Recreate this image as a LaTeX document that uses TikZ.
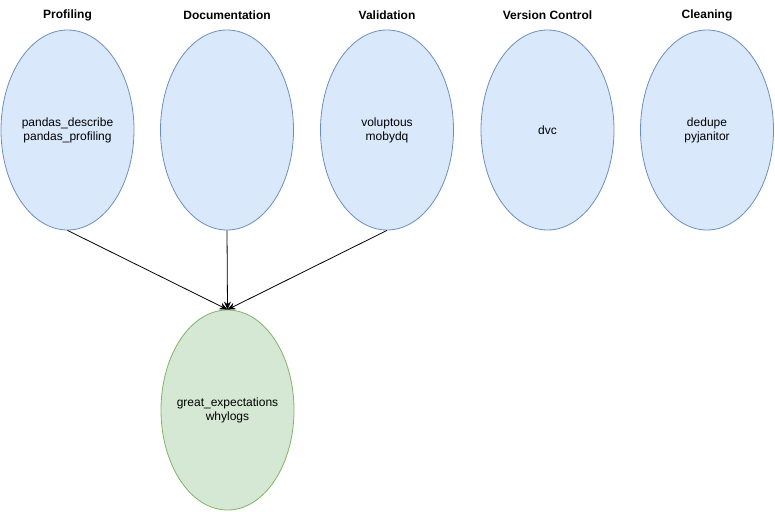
\documentclass[tikz,border=0pt]{standalone}
\usepackage{fontspec}
\setmainfont{Liberation Sans}
\usetikzlibrary{shapes.geometric,arrows.meta}
\definecolor{bfill}{HTML}{DAE8FC}
\definecolor{bdraw}{HTML}{6C8EBF}
\definecolor{gfill}{HTML}{D5E8D4}
\definecolor{gdraw}{HTML}{82B366}
\begin{document}
\begin{tikzpicture}[x=1pt,y=-1pt,
  blueell/.style={ellipse,draw=bdraw,fill=bfill,line width=0.8pt,minimum width=133pt,minimum height=200pt,inner xsep=-15pt,inner ysep=0pt,align=center,font=\fontsize{12}{14}\selectfont},
  greenell/.style={ellipse,draw=gdraw,fill=gfill,line width=0.8pt,minimum width=133pt,minimum height=200pt,inner xsep=-15pt,inner ysep=0pt,align=center,font=\fontsize{12}{14}\selectfont},
  title/.style={font=\bfseries\fontsize{12}{14}\selectfont,inner sep=0pt},
  conn/.style={line width=0.8pt,-{Stealth[length=8pt,width=7pt]}}]
\useasboundingbox (0,0) rectangle (775,511);
\node[title] (t1) at (67.5,15) {Profiling};
\node[title] (t2) at (227,15) {Documentation};
\node[title] (t3) at (387,15) {Validation};
\node[title] (t4) at (547.5,15) {Version Control};
\node[title] (t5) at (707,15) {Cleaning};
\node[blueell] (e1) at (67.5,130) {pandas\_describe\\pandas\_profiling};
\node[blueell] (e2) at (227,130) {};
\node[blueell] (e3) at (387,130) {voluptous\\mobydq};
\node[blueell] (e4) at (547.5,130) {dvc};
\node[blueell] (e5) at (707,130) {dedupe\\pyjanitor};
\node[greenell] (g) at (227.5,410) {great\_expectations\\whylogs};
\draw[conn] (e1.south) -- (g.north);
\draw[conn] (e2.south) -- (g.north);
\draw[conn] (e3.south) -- (g.north);
\end{tikzpicture}
\end{document}
